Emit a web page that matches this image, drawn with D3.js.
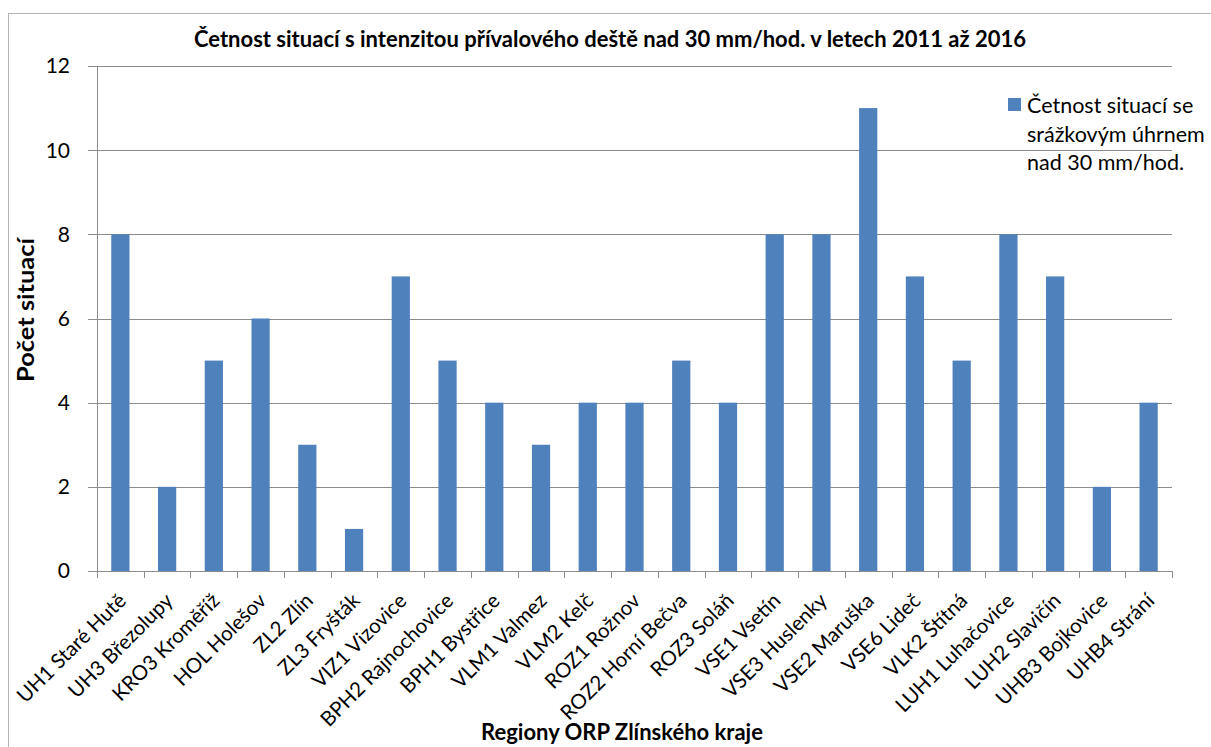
<!DOCTYPE html>
<html><head><meta charset="utf-8">
<script src="https://cdn.jsdelivr.net/npm/d3@7"></script>
<style>body{margin:0;background:#fff;}svg{display:block;font-family:Lato,"Open Sans",sans-serif;}</style>
</head><body>
<svg id="c" width="1211" height="747"></svg>
<script>
const categories = ["UH1 Staré Hutě","UH3 Březolupy","KRO3 Kroměříž","HOL Holešov","ZL2 Zlín","ZL3 Fryšták","VIZ1 Vizovice","BPH2 Rajnochovice","BPH1 Bystřice","VLM1 Valmez","VLM2 Kelč","ROZ1 Rožnov","ROZ2 Horní Bečva","ROZ3 Soláň","VSE1 Vsetín","VSE3 Huslenky","VSE2 Maruška","VSE6 Lideč","VLK2 Štítná","LUH1 Luhačovice","LUH2 Slavičín","UHB3 Bojkovice","UHB4 Strání"];
const values = [8,2,5,6,3,1,7,5,4,3,4,4,5,4,8,8,11,7,5,8,7,2,4];
const yTicks = [0,2,4,6,8,10,12];
const titleText = "Četnost situací s intenzitou přívalového deště nad 30 mm/hod. v letech 2011 až 2016";
const yTitle = "Počet situací";
const xTitle = "Regiony ORP Zlínského kraje";
const legendLines = ["Četnost situací se","srážkovým úhrnem","nad 30 mm/hod."];

const svg = d3.select("#c");
const L = 97, R = 1172, T = 66, B = 571;
const x = d3.scaleBand().domain(categories).range([L, R]).paddingInner(0.61).paddingOuter(0.305);
const band = d3.scaleBand().domain(categories).range([L, R]);
const y = d3.scaleLinear().domain([0, 12]).range([B, T]);

// outer frame
svg.append("line").attr("x1",8).attr("x2",1211).attr("y1",13.5).attr("y2",13.5).attr("stroke","#b4b4b4");
svg.append("line").attr("x1",8.5).attr("x2",8.5).attr("y1",13).attr("y2",747).attr("stroke","#b4b4b4");

// gridlines
svg.append("g").selectAll("line").data(yTicks).join("line")
  .attr("x1", L-9).attr("x2", R).attr("y1", d=>Math.round(y(d))+0.5).attr("y2", d=>Math.round(y(d))+0.5)
  .attr("stroke", "#8c8c8c").attr("stroke-width", 1);

// y axis line
svg.append("line").attr("x1",L+0.5).attr("x2",L+0.5).attr("y1",T).attr("y2",B).attr("stroke","#8c8c8c");

// x ticks
const xTickPos = categories.map(c => band(c)).concat([R]);
svg.append("g").selectAll("line").data(xTickPos).join("line")
  .attr("x1", d=>Math.round(d)+0.5).attr("x2", d=>Math.round(d)+0.5).attr("y1", B).attr("y2", B+7)
  .attr("stroke","#8c8c8c");

// bars
svg.append("g").selectAll("rect").data(values).join("rect")
  .attr("x", (d,i)=>x(categories[i])).attr("width", x.bandwidth())
  .attr("y", d=>y(d)).attr("height", d=>B - y(d))
  .attr("fill", "#4f81bd");

// y tick labels
svg.append("g").selectAll("text").data(yTicks).join("text")
  .attr("x", 70).attr("y", d=>y(d)).attr("dy","0.35em").attr("text-anchor","end")
  .attr("font-size", 21).attr("fill","#000").text(d=>d);

// x labels
svg.append("g").selectAll("text").data(categories).join("text")
  .attr("transform", c => `translate(${band(c)+band.bandwidth()/2+7},${B+31}) rotate(-45)`)
  .attr("text-anchor","end").attr("font-size", 20.5).attr("fill","#000").text(c=>c);

// title
svg.append("text").attr("x", 610).attr("y", 47).attr("text-anchor","middle")
  .attr("font-size", 22).attr("font-weight","bold").text(titleText);

// y title
svg.append("text").attr("transform","translate(34,310) rotate(-90)").attr("text-anchor","middle")
  .attr("font-size", 22).attr("font-weight","bold")
  .attr("textLength", 144).attr("lengthAdjust","spacingAndGlyphs").text(yTitle);

// x title
svg.append("text").attr("x", 622).attr("y", 740).attr("text-anchor","middle")
  .attr("font-size", 22).attr("font-weight","bold").text(xTitle);

// legend
svg.append("rect").attr("x",1008).attr("y",98).attr("width",13).attr("height",13).attr("fill","#4f81bd");
svg.append("g").selectAll("text").data(legendLines).join("text")
  .attr("x", 1027).attr("y", (d,i)=>113 + i*28.5).attr("font-size", 21.5).attr("fill","#000").text(d=>d);
</script>
</body></html>
